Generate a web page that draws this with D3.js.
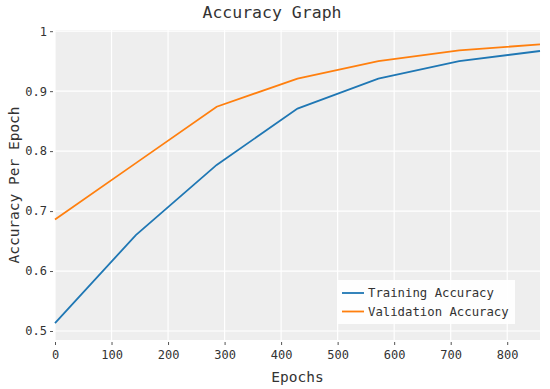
<!DOCTYPE html>
<html>
<head>
<meta charset="utf-8">
<script src="https://cdn.jsdelivr.net/npm/d3@7"></script>
<style>
  body { margin: 0; background: #fff; }
  text { font-family: "DejaVu Sans Mono", monospace; fill: #333; }
</style>
</head>
<body>
<div id="chart"></div>
<script>
// data
const epochs = [0, 143, 286, 429, 572, 715, 858];
const trainAcc = [0.513, 0.66, 0.777, 0.871, 0.921, 0.95, 0.967];
const valAcc = [0.686, 0.78, 0.874, 0.921, 0.95, 0.968, 0.978];
const xTicks = [0, 100, 200, 300, 400, 500, 600, 700, 800];
const yTicks = [0.5, 0.6, 0.7, 0.8, 0.9, 1];
const seriesNames = ["Training Accuracy", "Validation Accuracy"];
const colors = ["#1f77b4", "#ff7f0e"];

const width = 550, height = 389;
const margin = {top: 30, right: 10, bottom: 49, left: 55};
const w = width - margin.left - margin.right;
const h = height - margin.top - margin.bottom;

const svg = d3.select("#chart")
    .append("svg")
    .attr("width", width)
    .attr("height", height);

const g = svg.append("g")
    .attr("transform", `translate(${margin.left},${margin.top})`);

const x = d3.scaleLinear()
    .domain([0, 858])
    .range([0, w]);

const y = d3.scaleLinear()
    .domain([0.485, 1.002])
    .range([h, 0]);

// background
g.append("rect")
    .attr("width", w)
    .attr("height", h)
    .attr("fill", "#eeeeee");

// grid
g.selectAll(".vgrid")
    .data(xTicks)
    .enter().append("line")
    .attr("x1", d => x(d)).attr("x2", d => x(d))
    .attr("y1", 0).attr("y2", h)
    .attr("stroke", "#fff").attr("stroke-width", 1.2);

g.selectAll(".hgrid")
    .data(yTicks)
    .enter().append("line")
    .attr("x1", 0).attr("x2", w)
    .attr("y1", d => y(d)).attr("y2", d => y(d))
    .attr("stroke", "#fff").attr("stroke-width", 1.2);

// axes
const xAxis = g.append("g")
    .attr("transform", `translate(0,${h + 2})`)
    .call(d3.axisBottom(x).tickValues(xTicks).tickSize(3).tickPadding(5));
xAxis.select(".domain").remove();
xAxis.selectAll("line").attr("stroke", "#555");
xAxis.selectAll("text").style("font-size", "12px").attr("fill", "#333");

const yAxis = g.append("g")
    .attr("transform", "translate(-2,0)")
    .call(d3.axisLeft(y).tickValues(yTicks).tickSize(3).tickPadding(3)
        .tickFormat(d => d === 1 ? "1" : d3.format(".1f")(d)));
yAxis.select(".domain").remove();
yAxis.selectAll("line").attr("stroke", "#555");
yAxis.selectAll("text").style("font-size", "12px").attr("fill", "#333");

// lines
const line = d3.line()
    .x((d, i) => x(epochs[i]))
    .y(d => y(d));

[trainAcc, valAcc].forEach((s, i) => {
    g.append("path")
        .datum(s)
        .attr("fill", "none")
        .attr("stroke", colors[i])
        .attr("stroke-width", 1.8)
        .attr("d", line);
});

// title and labels
svg.append("text")
    .attr("x", 272).attr("y", 18)
    .attr("text-anchor", "middle")
    .style("font-size", "16.5px")
    .text("Accuracy Graph");

svg.append("text")
    .attr("x", margin.left + w / 2).attr("y", 382)
    .attr("text-anchor", "middle")
    .style("font-size", "14.5px")
    .text("Epochs");

svg.append("text")
    .attr("transform", `translate(19,${margin.top + h / 2}) rotate(-90)`)
    .attr("text-anchor", "middle")
    .style("font-size", "14.5px")
    .text("Accuracy Per Epoch");

// legend
const lg = svg.append("g").attr("transform", "translate(337,280)");
lg.append("rect")
    .attr("width", 178).attr("height", 44)
    .attr("fill", "#fff").attr("opacity", 0.9);
seriesNames.forEach((n, i) => {
    const yy = 13 + i * 18.5;
    lg.append("line")
        .attr("x1", 5).attr("x2", 27)
        .attr("y1", yy).attr("y2", yy)
        .attr("stroke", colors[i]).attr("stroke-width", 1.8);
    lg.append("text")
        .attr("x", 31).attr("y", yy + 4)
        .style("font-size", "12.3px")
        .text(n);
});
</script>
</body>
</html>
